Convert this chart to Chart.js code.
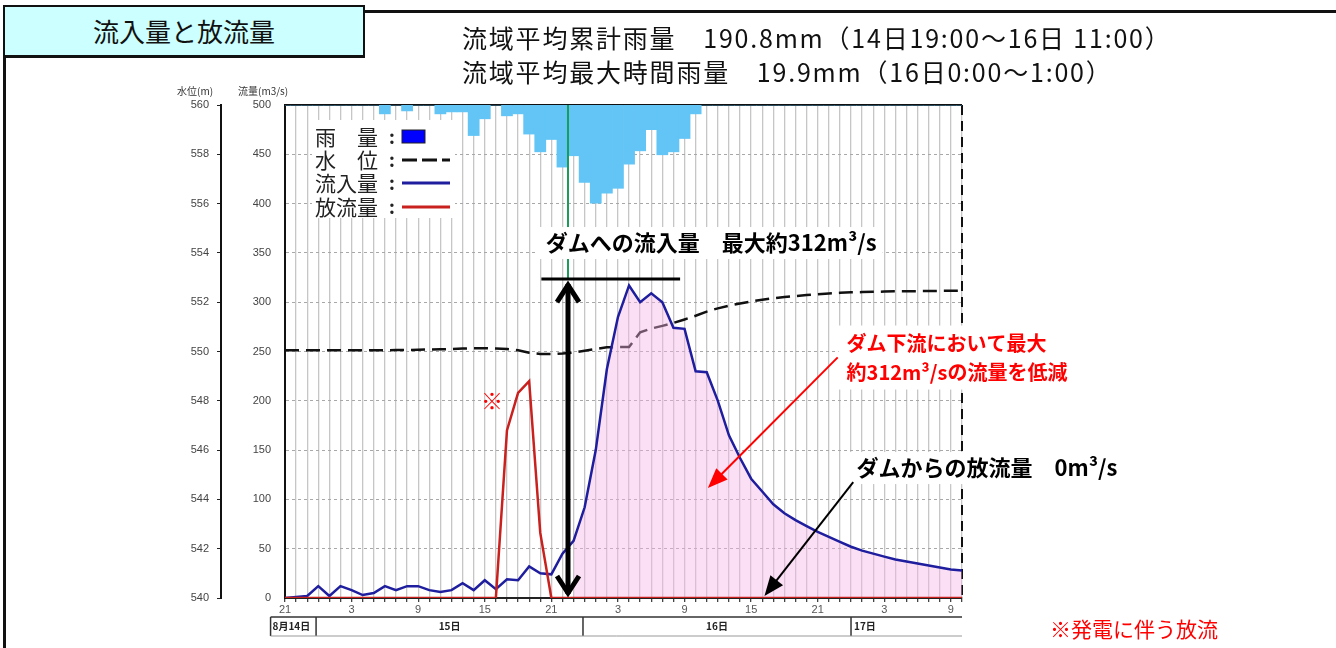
<!DOCTYPE html>
<html lang="ja">
<head>
<meta charset="utf-8">
<script src="https://cdn.jsdelivr.net/npm/chart.js@4.4.0/dist/chart.umd.min.js"></script>
<style>
  html, body { margin: 0; padding: 0; background: #fff; width: 1336px; height: 648px; overflow: hidden;
    font-family: "Noto Sans CJK JP", sans-serif; }
  #chart { position: absolute; left: 0; top: 0; }
  .title { position: absolute; left: 3px; top: 5px; width: 358px; height: 48px; background: #ccffff;
    border: 2px solid #111; border-bottom-width: 3px; font-size: 26px; line-height: 48px; text-align: center; color: #111; }
  .frameTop { position: absolute; left: 363px; top: 10px; width: 973px; height: 3px; background: #111; }
  .frameLeft { position: absolute; left: 3px; top: 55px; width: 3px; height: 593px; background: #111; }
  .info { position: absolute; left: 462px; font-size: 25px; letter-spacing: 1.8px; color: #111; white-space: nowrap; line-height: 30px; }
  .note { position: absolute; left: 1050px; top: 613px; font-size: 21px; color: #f00; white-space: nowrap; }
</style>
</head>
<body>
<canvas id="chart" width="1336" height="648"></canvas>
<div class="frameTop"></div>
<div class="frameLeft"></div>
<div class="title">流入量と放流量</div>
<div class="info" style="top:22px">流域平均累計雨量　190.8mm（14日19:00～16日 11:00）</div>
<div class="info" style="top:56px">流域平均最大時間雨量　19.9mm（16日0:00～1:00）</div>
<div class="note">※発電に伴う放流</div>
<script>
// hourly categories: 14日21時 ... 17日10時
const hourLabels = ['21','22','23',
  '0','1','2','3','4','5','6','7','8','9','10','11','12','13','14','15','16','17','18','19','20','21','22','23',
  '0','1','2','3','4','5','6','7','8','9','10','11','12','13','14','15','16','17','18','19','20','21','22','23',
  '0','1','2','3','4','5','6','7','8','9','10'];
const xTickLabels = ['21','3','9','15','21','3','9','15','21','3','9'];
const dayLabels = ['8月14日','15日','16日','17日'];
const legendLabels = ['雨　量','水　位','流入量','放流量'];

// 雨量 (mm/h)
const rainfall = [0,0,0,0,0,0,0,0,0,1.8, 0,1.2,0,0,1.8,1.4,1.4,6.2,2.8,0,
  2.2,1.8,5.9,9.5,7.0,12.6,10.3,15.7,19.9,17.9, 16.9,12.0,9.3,5.0,10.1,9.5,6.8,1.8,0,0,
  0,0,0,0,0,0,0,0,0,0, 0,0,0,0,0,0,0,0,0,0, 0,0];
// 水位 (m)
const waterLevel = [550.05,550.05,550.05,550.05,550.05,550.05,550.05,550.05,550.05,550.05,
  550.06,550.06,550.07,550.08,550.09,550.10,550.12,550.13,550.13,550.12,
  550.10,550.05,549.95,549.90,549.90,549.92,549.96,550.03,550.10,550.17,
  550.18,550.18,550.78,550.93,551.04,551.16,551.30,551.45,551.62,551.75,
  551.86,551.95,552.03,552.10,552.16,552.21,552.25,552.29,552.32,552.35,
  552.38,552.40,552.41,552.42,552.43,552.44,552.44,552.45,552.45,552.46,
  552.46,552.47];
// 流入量 (m3/s)
const inflow = [0,1,2,12,2,12,8,3,5,12, 8,12,12,8,6,8,15,8,18,9,
  19,18,32,25,24,45,58,92,150,232, 285,317,300,309,300,274,273,230,229,200,
  165,142,121,108,95,86,79,73,67,62, 57,52,48,45,42,39,37,35,33,31, 29,28];
// 放流量 (m3/s)
const outflow = [0,0,0,0,0,0,0,0,0,0, 0,0,0,0,0,0,0,0,0,0,
  170,208,220,66,0,0,0,0,0,0, 0,0,0,0,0,0,0,0,0,0,
  0,0,0,0,0,0,0,0,0,0, 0,0,0,0,0,0,0,0,0,0, 0,0];

const fillStart = 26;
const inflowFill = inflow.map((v, i) => (i >= fillStart ? v : null));

const C_RAIN = '#62c5f5', C_LEVEL = '#111', C_IN = '#1e1e9e', C_OUT = '#c8211e', C_NOTE = '#ff0000';

Chart.defaults.font.family = "'Noto Sans CJK JP', 'Liberation Sans', sans-serif";

function arrowHead(ctx, x1, y1, x2, y2, len, half) {
  const a = Math.atan2(y2 - y1, x2 - x1);
  const bx = x2 - len * Math.cos(a), by = y2 - len * Math.sin(a);
  ctx.beginPath();
  ctx.moveTo(x2, y2);
  ctx.lineTo(bx + half * Math.sin(a), by - half * Math.cos(a));
  ctx.lineTo(bx - half * Math.sin(a), by + half * Math.cos(a));
  ctx.closePath();
  ctx.fill();
}

function arrow(ctx, x1, y1, x2, y2, color) {
  const a = Math.atan2(y2 - y1, x2 - x1);
  ctx.strokeStyle = color; ctx.fillStyle = color; ctx.lineWidth = 2;
  ctx.beginPath();
  ctx.moveTo(x1, y1);
  ctx.lineTo(x2 - 14 * Math.cos(a), y2 - 14 * Math.sin(a));
  ctx.stroke();
  arrowHead(ctx, x1, y1, x2, y2, 20, 8);
}

function boxedText(ctx, lines, x, y, lineH, font, color) {
  ctx.font = font;
  ctx.textAlign = 'left';
  ctx.textBaseline = 'middle';
  let w = 0;
  lines.forEach(t => { w = Math.max(w, ctx.measureText(t).width); });
  ctx.fillStyle = '#fff';
  ctx.fillRect(x - 8, y - lineH / 2 - 3, w + 14, lineH * lines.length + 6);
  ctx.fillStyle = color;
  lines.forEach((t, i) => ctx.fillText(t, x, y + i * lineH));
}

const annotate = {
  id: 'annotate',
  beforeDatasetsDraw(chart) {
    const { ctx, chartArea: a } = chart;
    ctx.save();
    ctx.strokeStyle = '#111';
    ctx.lineWidth = 2;
    ctx.beginPath(); ctx.moveTo(a.left, a.top); ctx.lineTo(a.right, a.top); ctx.stroke();
    ctx.setLineDash([10, 6]);
    ctx.beginPath(); ctx.moveTo(a.right, a.top); ctx.lineTo(a.right, a.bottom); ctx.stroke();
    ctx.restore();
  },
  afterDatasetsDraw(chart) {
    const { ctx, chartArea: a, scales } = chart;
    const X = h => scales.x.getPixelForValue(h);
    const Y = v => scales.flow.getPixelForValue(v);
    ctx.save();

    // green marker + peak bar + double arrow
    const xm = X(25.5);
    ctx.strokeStyle = '#1a9c5a'; ctx.lineWidth = 2;
    ctx.beginPath(); ctx.moveTo(xm, a.top); ctx.lineTo(xm, Y(323.5)); ctx.stroke();
    ctx.strokeStyle = '#000'; ctx.lineWidth = 3;
    ctx.beginPath(); ctx.moveTo(X(23.1), Y(323.5)); ctx.lineTo(X(35.6), Y(323.5)); ctx.stroke();
    ctx.lineWidth = 5; ctx.lineJoin = 'miter';
    const yt = Y(323.5) + 3, yb = Y(0) - 2;
    ctx.beginPath(); ctx.moveTo(xm, yt + 2); ctx.lineTo(xm, yb - 2); ctx.stroke();
    ctx.beginPath(); ctx.moveTo(xm - 11, yt + 20); ctx.lineTo(xm, yt + 3); ctx.lineTo(xm + 11, yt + 20); ctx.stroke();
    ctx.beginPath(); ctx.moveTo(xm - 11, yb - 20); ctx.lineTo(xm, yb - 3); ctx.lineTo(xm + 11, yb - 20); ctx.stroke();

    // texts
    boxedText(ctx, ['ダムへの流入量　最大約312m³/s'], X(23.5), Y(360), 26, 'bold 22px "Noto Sans CJK JP"', '#000');
    boxedText(ctx, ['ダム下流において最大', '約312m³/sの流量を低減'], X(50.6), Y(258.6), 29, 'bold 20px "Noto Sans CJK JP"', C_NOTE);
    boxedText(ctx, ['ダムからの放流量　0m³/s'], X(51.5), Y(131.8), 26, 'bold 22px "Noto Sans CJK JP"', '#000');

    ctx.font = '22px "Noto Sans CJK JP"';
    ctx.textAlign = 'center'; ctx.textBaseline = 'middle';
    ctx.fillStyle = C_NOTE;
    ctx.fillText('※', X(18.65), Y(200));

    arrow(ctx, X(49.8), Y(244), X(38.1), Y(111.6), C_NOTE);
    arrow(ctx, X(51.2), Y(117.6), X(43.2), Y(2), '#000');

    // legend
    const lx = a.left + 27, ly = a.top + 15;
    ctx.fillStyle = '#fff';
    ctx.fillRect(lx, ly, 143, 98);
    const rows = [32, 55, 78, 102];
    ctx.textAlign = 'left';
    legendLabels.forEach((t, i) => {
      const y = a.top + rows[i];
      ctx.fillStyle = '#222';
      ctx.font = '21px "Noto Sans CJK JP"';
      ctx.fillText(t, a.left + 30, y);
      ctx.font = 'bold 18px "Noto Sans CJK JP"';
      ctx.fillText(':', a.left + 104, y);
    });
    const sx = a.left + 117, ex = a.left + 165;
    ctx.fillStyle = '#0000ff'; ctx.strokeStyle = '#222'; ctx.lineWidth = 1;
    ctx.fillRect(sx, a.top + 25, 23, 13); ctx.strokeRect(sx, a.top + 25, 23, 13);
    ctx.lineWidth = 3;
    ctx.strokeStyle = C_LEVEL; ctx.setLineDash([15, 5]);
    ctx.beginPath(); ctx.moveTo(sx, a.top + rows[1]); ctx.lineTo(ex, a.top + rows[1]); ctx.stroke();
    ctx.setLineDash([]);
    ctx.strokeStyle = C_IN;
    ctx.beginPath(); ctx.moveTo(sx, a.top + rows[2]); ctx.lineTo(ex, a.top + rows[2]); ctx.stroke();
    ctx.strokeStyle = C_OUT;
    ctx.beginPath(); ctx.moveTo(sx, a.top + rows[3]); ctx.lineTo(ex, a.top + rows[3]); ctx.stroke();
    ctx.restore();
  },
  afterDraw(chart) {
    const { ctx, chartArea: a, scales } = chart;
    const X = h => scales.x.getPixelForValue(h);
    ctx.save();
    // axis titles
    ctx.font = '10px "Noto Sans CJK JP"';
    ctx.fillStyle = '#333';
    ctx.textAlign = 'left'; ctx.textBaseline = 'middle';
    ctx.fillText('水位(m)', scales.level.left + 27, a.top - 14);
    ctx.fillText('流量(m3/s)', scales.flow.left + 17, a.top - 14);

    // date row
    const bounds = [-1.3, 2.8, 26.85, 51];
    const top = a.bottom + 19, bot = a.bottom + 38;
    ctx.strokeStyle = '#333'; ctx.lineWidth = 1.5;
    ctx.beginPath(); ctx.moveTo(X(bounds[0]), top); ctx.lineTo(a.right, top); ctx.stroke();
    bounds.forEach(h => { ctx.beginPath(); ctx.moveTo(X(h), top); ctx.lineTo(X(h), bot); ctx.stroke(); });
    ctx.strokeStyle = '#999'; ctx.lineWidth = 1;
    ctx.beginPath(); ctx.moveTo(X(bounds[0]), bot); ctx.lineTo(a.right, bot); ctx.stroke();
    ctx.font = 'bold 10px "Noto Sans CJK JP"';
    ctx.fillStyle = '#222';
    const my = (top + bot) / 2;
    ctx.textAlign = 'left';
    ctx.fillText(dayLabels[0], X(bounds[0]) + 2, my);
    ctx.textAlign = 'center';
    ctx.fillText(dayLabels[1], (X(bounds[1]) + X(bounds[2])) / 2, my);
    ctx.fillText(dayLabels[2], (X(bounds[2]) + X(bounds[3])) / 2, my);
    ctx.textAlign = 'left';
    ctx.fillText(dayLabels[3], X(bounds[3]) + 3, my);
    ctx.restore();
  }
};

new Chart(document.getElementById('chart').getContext('2d'), {
  type: 'line',
  data: {
    labels: hourLabels,
    datasets: [
      { label: '放流量', data: outflow, yAxisID: 'flow', borderColor: C_OUT, borderWidth: 2.5,
        pointRadius: 0, tension: 0, order: 1 },
      { label: '流入量', data: inflow, yAxisID: 'flow', borderColor: C_IN, borderWidth: 2.5,
        pointRadius: 0, tension: 0, order: 2 },
      { type: 'bar', label: '雨量', data: rainfall, yAxisID: 'rain', backgroundColor: C_RAIN,
        barPercentage: 1, categoryPercentage: 1, borderWidth: 0, order: 3 },
      { label: 'fill', data: inflowFill, yAxisID: 'flow', borderWidth: 0, pointRadius: 0,
        fill: 'origin', backgroundColor: 'rgba(246, 180, 232, 0.42)', order: 4 },
      { label: '水位', data: waterLevel, yAxisID: 'level', borderColor: C_LEVEL, borderWidth: 2.5,
        borderDash: [14, 7], pointRadius: 0, tension: 0, order: 5 },
    ],
  },
  options: {
    responsive: false,
    animation: false,
    layout: { padding: { left: 150, top: 105, right: 374, bottom: 28 } },
    plugins: { legend: { display: false }, tooltip: { enabled: false } },
    scales: {
      x: {
        type: 'category',
        offset: false,
        grid: { offset: false, color: '#c6c6c6', lineWidth: 1.3, drawTicks: true, tickLength: 4, tickColor: '#444' },
        border: { color: '#222', width: 2 },
        ticks: {
          autoSkip: false, maxRotation: 0, padding: 1, color: '#555',
          font: { size: 11, family: 'Liberation Sans' },
          callback: (v, i) => (i % 6 === 0 ? xTickLabels[i / 6] : ''),
        },
        afterFit(s) { s.height = 22; },
      },
      flow: {
        type: 'linear', axis: 'y', position: 'left', weight: 0, min: 0, max: 500,
        ticks: { stepSize: 50, padding: 14, color: '#444', font: { size: 11, family: 'Liberation Sans' } },
        grid: { color: '#a8a8a8', lineWidth: 1, drawTicks: false },
        border: { color: '#111', width: 2, dash: [3, 3] },
        afterFit(s) { s.width = 64; },
      },
      level: {
        type: 'linear', axis: 'y', position: 'left', weight: 1, min: 540, max: 560,
        ticks: { stepSize: 2, padding: 8, color: '#444', font: { size: 11, family: 'Liberation Sans' } },
        grid: { drawOnChartArea: false, drawTicks: true, tickLength: 4, tickColor: '#222' },
        border: { color: '#111', width: 2 },
        afterFit(s) { s.width = 71; },
      },
      rain: { type: 'linear', axis: 'y', position: 'right', display: false, reverse: true, min: 0, max: 100 },
    },
  },
  plugins: [annotate],
});
</script>
</body>
</html>
